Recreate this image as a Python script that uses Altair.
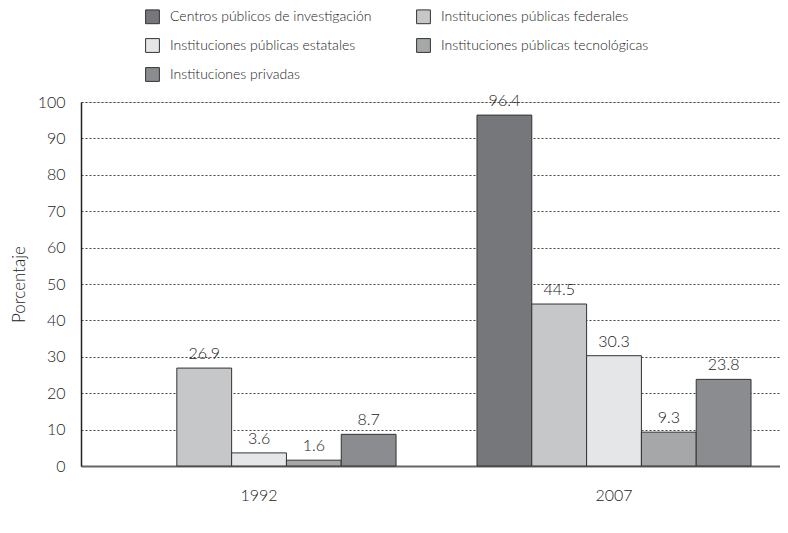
import altair as alt
import pandas as pd

years = ["1992", "2007"]
categories = [
    "Centros públicos de investigación",
    "Instituciones públicas federales",
    "Instituciones públicas estatales",
    "Instituciones públicas tecnológicas",
    "Instituciones privadas",
]
colors = ["#76777b", "#c6c7c9", "#e5e6e7", "#a6a7a9", "#8b8c8f"]
values_1992 = [None, 26.9, 3.6, 1.6, 8.7]
values_2007 = [96.4, 44.5, 30.3, 9.3, 23.8]

rows = []
for yr, vals in zip(years, [values_1992, values_2007]):
    for c, v in zip(categories, vals):
        if v is not None:
            rows.append({"year": yr, "cat": c, "value": v})
df = pd.DataFrame(rows)

# legend is laid out column by column: reorder so it reads row by row
legend_order = [0, 2, 4, 1, 3]
legend_domain = [categories[i] for i in legend_order]
legend_range = [colors[i] for i in legend_order]

FONT = "Lato"
TXT = "#222"

x = alt.X("year:N", title=None, sort=years,
          scale=alt.Scale(paddingInner=0.228, paddingOuter=0.0986, align=0.586),
          axis=alt.Axis(labelAngle=0, labelFontSize=16, labelColor=TXT,
                        labelFont=FONT, labelFontWeight=300, ticks=False, labelPadding=21,
                        domainColor="#666", domainWidth=2))
xo = alt.XOffset("cat:N", sort=categories, scale=alt.Scale(domain=categories, paddingInner=0))
y = alt.Y("value:Q", title="Porcentaje",
          scale=alt.Scale(domain=[0, 100], nice=False),
          axis=alt.Axis(values=list(range(0, 101, 10)), labelFontSize=16, labelColor=TXT,
                        labelFont=FONT, labelFontWeight=300, labelPadding=16, ticks=False,
                        titleFont=FONT, titleFontSize=17, titleFontWeight=300,
                        titleColor=TXT, titleX=-53,
                        domainColor="#222", domainWidth=1.5,
                        grid=True, gridColor="#444", gridDash=[2, 2], gridWidth=1))

base = alt.Chart(df)
bars = base.mark_bar(stroke="#333", strokeWidth=1).encode(
    x=x, xOffset=xo, y=y,
    color=alt.Color("cat:N",
                    scale=alt.Scale(domain=legend_domain, range=legend_range),
                    legend=alt.Legend(title=None, orient="none", legendX=64, legendY=-93,
                                      columns=2, columnPadding=42, rowPadding=10,
                                      symbolType="square", symbolSize=190,
                                      symbolStrokeColor="#333", symbolStrokeWidth=1,
                                      labelFont=FONT, labelFontSize=14, labelFontWeight=300,
                                      labelColor=TXT, labelLimit=400, labelOffset=10)),
)
texts = base.mark_text(dy=-6, fontSize=16, font=FONT, fontWeight=300, color=TXT,
                       baseline="bottom").encode(
    x=x, xOffset=xo, y=y, text=alt.Text("value:Q", format=".1f"))

chart = (bars + texts).properties(
    width=699, height=364,
    autosize=alt.AutoSizeParams(type="none"),
    padding={"left": 73, "top": 94, "right": 0, "bottom": 40},
).configure_view(stroke=None).configure(font=FONT)

chart.save("out.html", embed_options={"renderer": "svg", "actions": False})
